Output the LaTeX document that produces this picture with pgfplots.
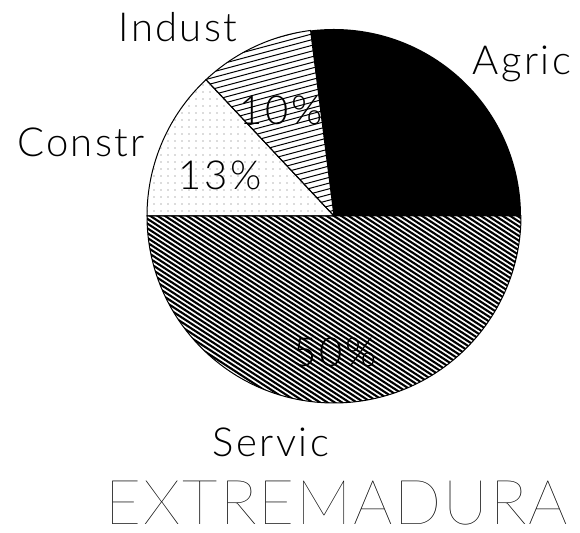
\documentclass[border=0pt]{standalone}
\usepackage{pgfplots}
\pgfplotsset{compat=1.18}
\usetikzlibrary{patterns.meta,calc}
\usepackage{fontspec}
\setmainfont{Lato}[UprightFont=* Light]
\newfontfamily\lbl{Lato}[UprightFont=* Light, LetterSpace=6]
\newfontfamily\ttl{Lato}[UprightFont=* Hairline, LetterSpace=3]
% shares (percent)
\def\pAgric{27}
\def\pIndust{10}
\def\pConstr{13}
\def\pServic{50}
\pgfmathsetmacro{\aA}{0}
\pgfmathsetmacro{\aB}{\aA+3.6*\pAgric}
\pgfmathsetmacro{\aC}{\aB+3.6*\pIndust}
\pgfmathsetmacro{\aD}{\aC+3.6*\pConstr}
\pgfmathsetmacro{\aE}{\aD+3.6*\pServic}
\def\R{93.5pt}
\def\slice#1#2{(0pt,0pt) -- (#1:\R) arc[start angle=#1, end angle=#2, radius=\R] -- cycle}
\begin{document}
\begin{tikzpicture}
\begin{axis}[hide axis, scale only axis, width=290pt, height=266.5pt,
  xmin=-334, xmax=246, ymin=-317, ymax=216, clip=false]
\pgfplotsextra{
\path (axis cs:-334,-317) rectangle (axis cs:246,216);
\begin{scope}[shift={(axis cs:0,0)}]
% Agric
\fill[black] \slice{\aA}{\aB};
% Indust
\begin{scope}
\clip \slice{\aB}{\aC};
\foreach \k in {-40,...,40}{
  \draw[line width=0.5pt] ($(105:{\k*2.75pt})+(15:-110pt)$) -- ($(105:{\k*2.75pt})+(15:110pt)$);
}
\end{scope}
\draw[line width=0.5pt] \slice{\aB}{\aC};
% Constr
\draw[line width=0.5pt, pattern={Dots[distance=3.5pt, radius=0.3pt]}, pattern color=black!60] \slice{\aC}{\aD};
% Servic
\begin{scope}
\clip \slice{\aD}{\aE};
\foreach \k in {-55,...,55}{
  \draw[line width=1.05pt] ($(57:{\k*2pt})+(-33:-110pt)$) -- ($(57:{\k*2pt})+(-33:110pt)$);
}
\end{scope}
\draw[line width=0.5pt] \slice{\aD}{\aE};
\end{scope}
}
% percentage labels
\node[font=\lbl\fontsize{20}{20}\selectfont, anchor=base, inner sep=0pt] at (axis cs:-53,91) {\pIndust\%};
\node[font=\lbl\fontsize{20}{20}\selectfont, anchor=base, inner sep=0pt] at (axis cs:-114,26) {\pConstr\%};
\node[font=\lbl\fontsize{20}{20}\selectfont, anchor=base, inner sep=0pt] at (axis cs:1,-151) {\pServic\%};
% category labels
\node[font=\lbl\fontsize{20}{20}\selectfont, anchor=base, inner sep=0pt] at (axis cs:-156,174) {Indust};
\node[font=\lbl\fontsize{20}{20}\selectfont, anchor=base, inner sep=0pt] at (axis cs:188,141) {Agric};
\node[font=\lbl\fontsize{20}{20}\selectfont, anchor=base, inner sep=0pt] at (axis cs:-253,59) {Constr};
\node[font=\lbl\fontsize{20}{20}\selectfont, anchor=base, inner sep=0pt] at (axis cs:-63,-241) {Servic};
\node[font=\ttl\fontsize{31}{31}\selectfont, anchor=base, inner sep=0pt] at (axis cs:3,-309) {EXTREMADURA};
\end{axis}
\end{tikzpicture}
\end{document}
